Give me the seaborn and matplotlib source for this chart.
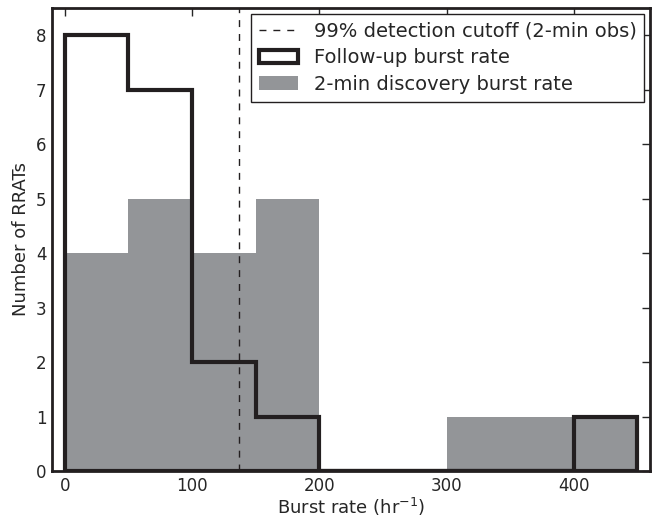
import numpy as np
import matplotlib
matplotlib.use("Agg")
import matplotlib.pyplot as plt
import seaborn as sns

# histogram bins (burst rate, hr^-1)
bin_edges = [0, 50, 100, 150, 200, 250, 300, 350, 400, 450]
discovery_counts = [4, 5, 4, 5, 0, 0, 1, 1, 1]
followup_counts = [8, 7, 2, 1, 0, 0, 0, 0, 1]
cutoff_rate = 137

sns.set_style("white")
plt.rcParams["font.family"] = ["DejaVu Sans"]

centers = [(a + b) / 2 for a, b in zip(bin_edges[:-1], bin_edges[1:])]

fig = plt.figure(figsize=(6.6, 5.2), dpi=100)
ax = fig.add_axes([0.079, 0.094, 0.906, 0.891])

sns.histplot(x=centers, weights=discovery_counts, bins=bin_edges, ax=ax,
             element="bars", color="#939598", alpha=1, linewidth=0,
             label="2-min discovery burst rate")
# filled step polygon with no face gives the closed outline
sns.histplot(x=centers, weights=followup_counts, bins=bin_edges, ax=ax,
             element="step", fill=True, color="#231f20", facecolor="none",
             edgecolor="#231f20", linewidth=3.0, joinstyle="miter",
             label="Follow-up burst rate")
ax.axvline(cutoff_rate, color="#231f20", linestyle=(0, (5, 5)), linewidth=1,
           label="99% detection cutoff (2-min obs)")

ax.set_xlim(-10, 460)
ax.set_ylim(0, 8.5)
ax.set_xticks([0, 100, 200, 300, 400])
ax.set_yticks(range(0, 9))
ax.tick_params(direction="in", top=True, right=True, length=6, width=1,
               labelsize=12, pad=4)
for s in ax.spines.values():
    s.set_linewidth(2)
    s.set_color("#231f20")

ax.set_xlabel("Burst rate (hr$^{-1}$)", fontsize=13, labelpad=1)
ax.set_ylabel("Number of RRATs", fontsize=13)

h, l = ax.get_legend_handles_labels()
order = [l.index("99% detection cutoff (2-min obs)"),
         l.index("Follow-up burst rate"),
         l.index("2-min discovery burst rate")]
leg = ax.legend([h[i] for i in order], [l[i] for i in order],
                loc="upper right", fontsize=14, fancybox=False,
                framealpha=1, edgecolor="#231f20", borderaxespad=0.3,
                labelspacing=0.4)
leg.get_frame().set_linewidth(1)

fig.savefig("out.png", dpi=100)
